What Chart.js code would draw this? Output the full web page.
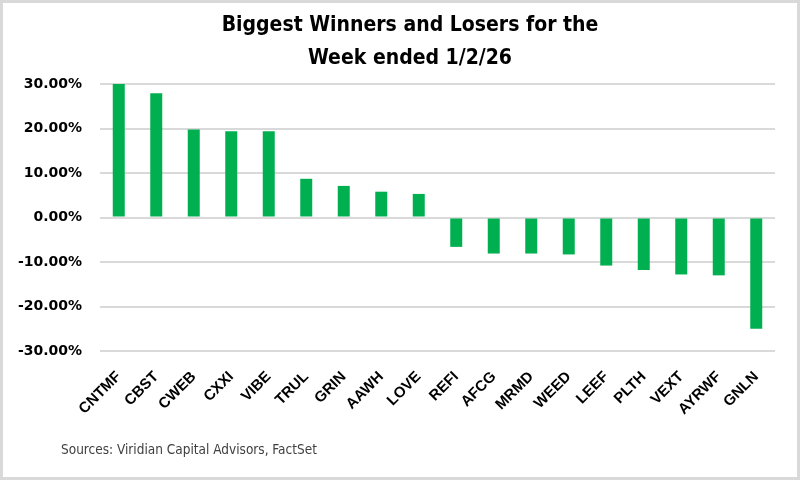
<!DOCTYPE html>
<html>
<head>
<meta charset="utf-8">
<script src="https://cdn.jsdelivr.net/npm/chart.js@4.4.1/dist/chart.umd.min.js"></script>
<style>
  html, body { margin: 0; padding: 0; background: #fff; }
  #wrap { width: 800px; height: 480px; position: relative; }
</style>
</head>
<body>
<div id="wrap"><canvas id="chart" width="800" height="480"></canvas></div>
<script>
const tickers = ['CNTMF', 'CBST', 'CWEB', 'CXXI', 'VIBE', 'TRUL', 'GRIN', 'AAWH', 'LOVE',
  'REFI', 'AFCG', 'MRMD', 'WEED', 'LEEF', 'PLTH', 'VEXT', 'AYRWF', 'GNLN'];
const weeklyReturns = [30.0, 27.9, 19.8, 19.4, 19.4, 8.7, 7.1, 5.8, 5.3,
  -6.6, -8.1, -8.1, -8.3, -10.8, -11.8, -12.8, -13.0, -25.0];
const yTicks = [-30, -20, -10, 0, 10, 20, 30];
const titleLines = ['Biggest Winners and Losers for the', 'Week ended 1/2/26'];
const sourceNote = 'Sources: Viridian Capital Advisors, FactSet';

const narrow = '"Liberation Sans Narrow", "DejaVu Sans Condensed", sans-serif';

// background, frame, title and source note
const frame = {
  id: 'frame',
  beforeDraw(chart) {
    const { ctx, width, height } = chart;
    ctx.save();
    ctx.fillStyle = '#fff';
    ctx.fillRect(0, 0, width, height);
    ctx.restore();
  },
  afterDraw(chart) {
    const { ctx, width, height } = chart;
    ctx.save();
    ctx.strokeStyle = '#d9d9d9';
    ctx.lineWidth = 3;
    ctx.strokeRect(1.5, 1.5, width - 3, height - 3);

    ctx.fillStyle = '#000';
    ctx.font = 'bold 21px ' + narrow;
    ctx.textAlign = 'center';
    ctx.textBaseline = 'middle';
    titleLines.forEach((line, i) => ctx.fillText(line, 410, 26 + i * 33));

    ctx.fillStyle = '#404040';
    ctx.font = '13.5px ' + narrow;
    ctx.textAlign = 'left';
    ctx.fillText(sourceNote, 61, 450);
    ctx.restore();
  },
};

new Chart(document.getElementById('chart'), {
  type: 'bar',
  data: {
    labels: tickers,
    datasets: [{
      data: weeklyReturns,
      backgroundColor: '#00b050',
      categoryPercentage: 1,
      barPercentage: 0.32,
    }],
  },
  options: {
    responsive: false,
    animation: false,
    layout: { padding: { left: 0, right: 25, top: 84, bottom: 0 } },
    plugins: {
      legend: { display: false },
      tooltip: { enabled: false },
      title: { display: false },
    },
    scales: {
      y: {
        min: -30,
        max: 30,
        afterFit(scale) { scale.width = 100; },
        afterBuildTicks(scale) { scale.ticks = yTicks.map(v => ({ value: v })); },
        border: { display: false },
        grid: { color: '#d9d9d9', lineWidth: 2, drawTicks: false },
        ticks: {
          padding: 18,
          color: '#000',
          font: { family: '"DejaVu Sans", sans-serif', size: 14, weight: 'bold' },
          callback: v => v.toFixed(2) + '%',
        },
      },
      x: {
        afterFit(scale) { scale.height = 129; },
        border: { display: false },
        grid: { display: false },
        ticks: {
          minRotation: 45,
          maxRotation: 45,
          padding: 9,
          color: '#000',
          font: { family: '"Liberation Sans", Arial, sans-serif', size: 15, weight: 'bold' },
        },
      },
    },
  },
  plugins: [frame],
});
</script>
</body>
</html>
